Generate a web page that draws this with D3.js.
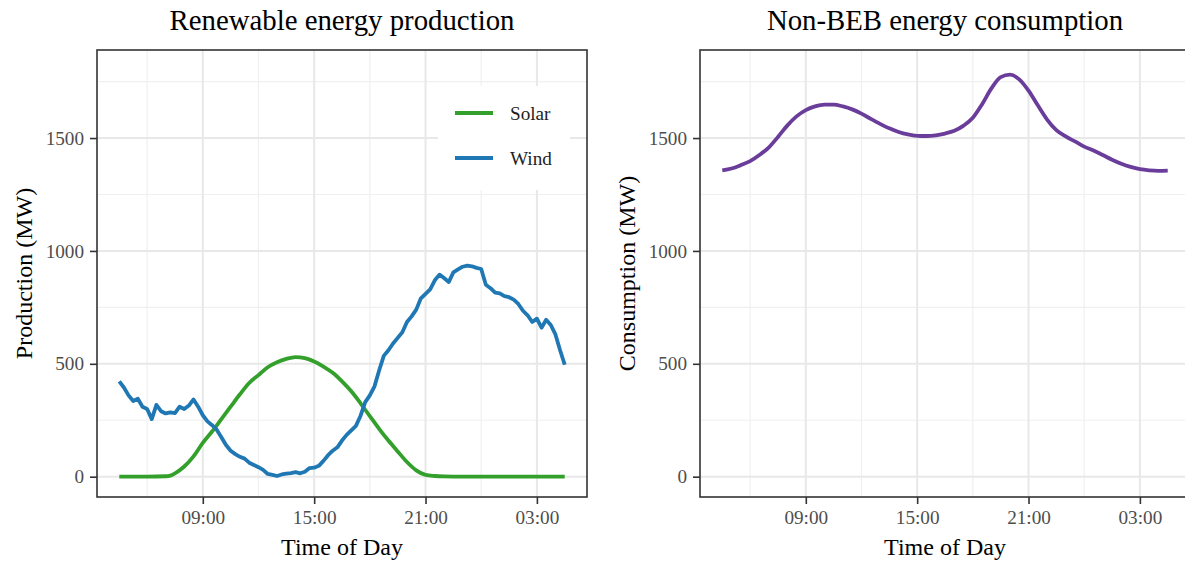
<!DOCTYPE html>
<html>
<head>
<meta charset="utf-8">
<script src="https://cdn.jsdelivr.net/npm/d3@7"></script>
<style>
  body { margin: 0; background: #fff; }
  svg { display: block; font-family: "Liberation Serif", "DejaVu Serif", serif; }
</style>
</head>
<body>
<svg id="chart" width="1185" height="565"></svg>
<script>
// Time of day in hours (4.5 = 04:30, 28.5 = 04:30 next day)
const windHours = d3.range(4.5, 28.51, 0.25);
const windValues = [
  422, 395, 360, 335, 345, 310, 300, 255, 318, 290, 280, 285, 282, 310, 300, 315,
  342, 310, 272, 245, 228, 208, 175, 140, 115, 100, 88, 80, 62, 52, 42, 30,
  12, 8, 3, 10, 14, 16, 20, 15, 22, 38, 40, 48, 70, 95, 115, 130,
  160, 185, 205, 225, 270, 330, 360, 400, 470, 535, 560, 590, 615, 640, 685, 710,
  740, 790, 810, 830, 870, 895, 880, 862, 905, 918, 930, 935, 932, 925, 920, 850,
  835, 815, 812, 800, 795, 784, 765, 735, 715, 685, 700, 660, 695, 672, 630, 560,
  496
];

const solarHours = [4.5, 5, 6, 7, 7.25, 7.5, 8, 8.5, 9, 9.5, 10, 10.5, 11, 11.5, 12, 12.5, 13, 13.5, 14,
  14.5, 15, 15.5, 16, 16.5, 17, 17.5, 18, 18.5, 19, 19.5, 20, 20.5, 21, 21.5, 22, 23, 24, 25, 26, 27, 28, 28.5];
const solarValues = [0, 0, 0, 2, 5, 15, 45, 90, 150, 200, 255, 310, 365, 415, 450, 485, 507, 522, 530,
  525, 510, 488, 460, 422, 378, 325, 268, 212, 160, 112, 65, 28, 8, 3, 1, 0, 0, 0, 0, 0, 0, 0];

const loadHours = d3.range(4.5, 28.51, 0.5);
const loadValues = [
  1357, 1365, 1380, 1398, 1425, 1458, 1505, 1555, 1596, 1624, 1640, 1648, 1648, 1640, 1627, 1608,
  1585, 1563, 1543, 1527, 1516, 1510, 1509, 1512, 1520, 1532, 1555, 1590, 1650, 1720, 1770, 1781,
  1760, 1710, 1645, 1582, 1535, 1507, 1485, 1462, 1445, 1425, 1404, 1386, 1372, 1362, 1357, 1355, 1356
];

const xTicks = [9, 15, 21, 27];
const xTickLabels = ["09:00", "15:00", "21:00", "03:00"];
const xMinor = [6, 12, 18, 24];
const yTicks = [0, 500, 1000, 1500];
const yMinor = [250, 750, 1250, 1750];

const seriesNames = ["Solar", "Wind"];
const seriesColors = { Solar: "#33A02C", Wind: "#1F78B4" };
const loadColor = "#6A3D9A";

const svg = d3.select("#chart");

const yScale = d3.scaleLinear().domain([-90, 1890]).range([497, 50]);
const xDomain = [3.3, 29.7];

function drawPanel(opts) {
  const x = d3.scaleLinear().domain(xDomain).range([opts.left, opts.right]);
  const g = svg.append("g");
  const top = yScale.range()[1], bottom = yScale.range()[0];

  // grid
  g.selectAll(".minor-x").data(xMinor).enter().append("line")
    .attr("x1", d => x(d)).attr("x2", d => x(d))
    .attr("y1", top).attr("y2", bottom)
    .attr("stroke", "#f0f0f0").attr("stroke-width", 1.2);
  g.selectAll(".minor-y").data(yMinor).enter().append("line")
    .attr("x1", opts.left).attr("x2", opts.right)
    .attr("y1", d => yScale(d)).attr("y2", d => yScale(d))
    .attr("stroke", "#f0f0f0").attr("stroke-width", 1.2);
  g.selectAll(".major-x").data(xTicks).enter().append("line")
    .attr("x1", d => x(d)).attr("x2", d => x(d))
    .attr("y1", top).attr("y2", bottom)
    .attr("stroke", "#e8e8e8").attr("stroke-width", 2);
  g.selectAll(".major-y").data(yTicks).enter().append("line")
    .attr("x1", opts.left).attr("x2", opts.right)
    .attr("y1", d => yScale(d)).attr("y2", d => yScale(d))
    .attr("stroke", "#e8e8e8").attr("stroke-width", 2);

  // legend background sits over the grid
  if (opts.legend) {
    g.append("rect")
      .attr("x", 438).attr("y", 86)
      .attr("width", 132).attr("height", 104)
      .attr("fill", "white");
  }

  // lines
  opts.series.forEach(s => {
    const pts = s.hours.map((h, i) => [h, s.values[i]]);
    g.append("path")
      .datum(pts)
      .attr("fill", "none")
      .attr("stroke", s.color)
      .attr("stroke-width", 3.8)
      .attr("stroke-linejoin", "round")
      .attr("stroke-linecap", "butt")
      .attr("d", d3.line().x(d => x(d[0])).y(d => yScale(d[1])).curve(s.curve));
  });

  // panel border
  g.append("rect")
    .attr("x", opts.left).attr("y", top)
    .attr("width", opts.right - opts.left).attr("height", bottom - top)
    .attr("fill", "none").attr("stroke", "#333333").attr("stroke-width", 1.6);

  // axes
  const xAxis = g.append("g").attr("transform", `translate(0,${bottom})`)
    .call(d3.axisBottom(x).tickValues(xTicks).tickFormat((d, i) => xTickLabels[i]).tickSize(7).tickPadding(6));
  const yAxis = g.append("g").attr("transform", `translate(${opts.left},0)`)
    .call(d3.axisLeft(yScale).tickValues(yTicks).tickFormat(d3.format("d")).tickSize(7).tickPadding(6));
  [xAxis, yAxis].forEach(a => {
    a.select(".domain").remove();
    a.selectAll(".tick line").attr("stroke", "#333333").attr("stroke-width", 1.6);
    a.selectAll(".tick text")
      .attr("fill", "#4d4d4d")
      .style("font-family", "'Liberation Serif', serif")
      .style("font-size", "19.2px");
  });

  // titles
  g.append("text")
    .attr("x", (opts.left + opts.right) / 2).attr("y", 30)
    .attr("text-anchor", "middle")
    .style("font-size", "28.8px")
    .text(opts.title);
  g.append("text")
    .attr("x", (opts.left + opts.right) / 2).attr("y", 555)
    .attr("text-anchor", "middle")
    .style("font-size", "24px")
    .text("Time of Day");
  g.append("text")
    .attr("transform", `translate(${opts.left - 65},${(top + bottom) / 2}) rotate(-90)`)
    .attr("text-anchor", "middle")
    .style("font-size", "24px")
    .text(opts.yTitle);
}

drawPanel({
  left: 97, right: 587,
  title: "Renewable energy production",
  yTitle: "Production (MW)",
  legend: true,
  series: [
    { hours: solarHours, values: solarValues, color: seriesColors.Solar, curve: d3.curveMonotoneX },
    { hours: windHours, values: windValues, color: seriesColors.Wind, curve: d3.curveLinear }
  ]
});

drawPanel({
  left: 700, right: 1190,
  title: "Non-BEB energy consumption",
  yTitle: "Consumption (MW)",
  legend: false,
  series: [
    { hours: loadHours, values: loadValues, color: loadColor, curve: d3.curveMonotoneX }
  ]
});

// Legend
const legend = svg.append("g");
seriesNames.forEach((name, i) => {
  const ly = 113 + i * 45;
  legend.append("line")
    .attr("x1", 455).attr("x2", 493)
    .attr("y1", ly).attr("y2", ly)
    .attr("stroke", seriesColors[name]).attr("stroke-width", 4);
  legend.append("text")
    .attr("x", 510).attr("y", ly + 7)
    .style("font-size", "19.2px")
    .attr("fill", "#222")
    .text(name);
});
</script>
</body>
</html>
